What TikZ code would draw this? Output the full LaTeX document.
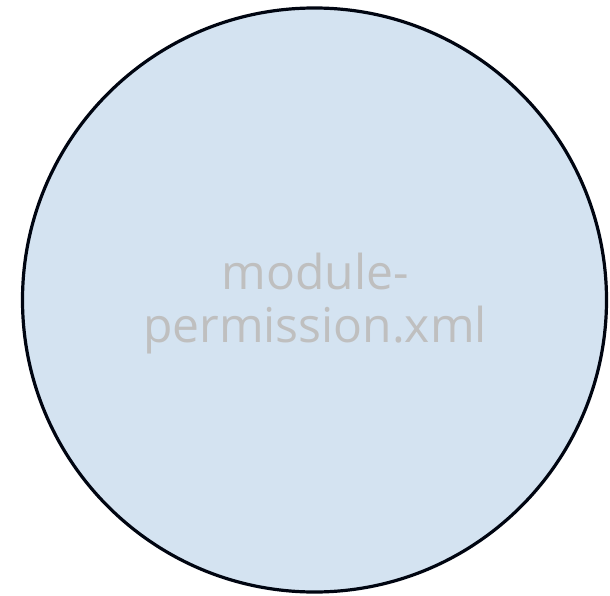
\documentclass[tikz,border=0pt]{standalone}
\usepackage{fontspec}
\setmainfont{Open Sans}
\definecolor{fillblue}{HTML}{D4E3F1}
\definecolor{edge}{HTML}{000511}
\definecolor{txt}{HTML}{BFBFBF}
\tikzset{circ/.style={circle,draw=edge,fill=fillblue,line width=3.2bp,minimum size=584bp,inner sep=0pt},
lbl/.style={text=txt,font=\fontsize{48bp}{53bp}\selectfont,align=center}}
\begin{document}
\begin{tikzpicture}[x=1bp,y=-1bp]
\useasboundingbox (0,0) rectangle (610,596);
\node[circ] (c) at (314.5,300) {};
\node[lbl] (t) at (315,304) {module-\\permission.xml};
\end{tikzpicture}
\end{document}
